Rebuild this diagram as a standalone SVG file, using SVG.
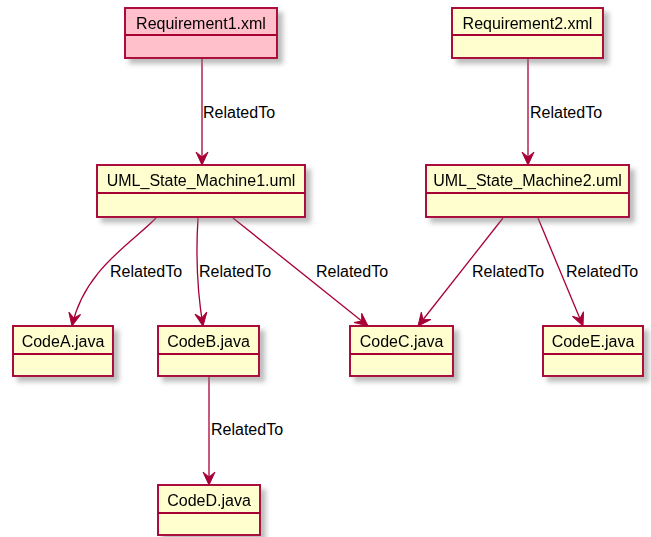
<svg xmlns="http://www.w3.org/2000/svg" width="651" height="537" viewBox="0 0 651 537">
  <defs>
    <filter id="shadow" x="-10%" y="-10%" width="130%" height="140%">
      <feGaussianBlur in="SourceAlpha" stdDeviation="2.5" result="blur"/>
      <feColorMatrix in="blur" type="matrix" values="0 0 0 0 0.2  0 0 0 0 0.2  0 0 0 0 0.2  0 0 0 0.5 0" result="tint"/>
      <feOffset in="tint" dx="5" dy="5" result="off"/>
      <feMerge><feMergeNode in="off"/><feMergeNode in="SourceGraphic"/></feMerge>
    </filter>
    <marker id="arrow" markerUnits="userSpaceOnUse" viewBox="-14 -7 15 14" markerWidth="15" markerHeight="14" refX="0" refY="0" orient="auto">
      <path d="M0,0 L-13,-6 L-8,0 L-13,6 Z" fill="#A80036" stroke="#A80036" stroke-width="1"/>
    </marker>
  </defs>
  <style>
    .box { fill: #FEFECE; stroke: #A80036; stroke-width: 1.9; }
    .pink { fill: #FFC0CB; }
    .div { stroke: #A80036; stroke-width: 1.9; }
    .name { font-family: "Liberation Sans", Arial, sans-serif; font-size: 16px; fill: #000; text-anchor: middle; }
    .edge { fill: none; stroke: #A80036; stroke-width: 1.3; marker-end: url(#arrow); }
    .lbl { font-family: "Liberation Sans", Arial, sans-serif; font-size: 16px; fill: #000; }
  </style>

  <!-- relations -->
  <g id="connectors">
    <path class="edge" d="M202,58 L202,165"/>
    <path class="edge" d="M528,58 L528,165"/>
    <path class="edge" d="M156,218 C132,243 84,270 72,326"/>
    <path class="edge" d="M198,218 C196,250 197,290 203,326"/>
    <path class="edge" d="M233,218 L368,326"/>
    <path class="edge" d="M503,218 L418,326"/>
    <path class="edge" d="M538,218 L583,326"/>
    <path class="edge" d="M209,376 L209,485"/>
    <text class="lbl" x="203" y="118">RelatedTo</text>
    <text class="lbl" x="530" y="118">RelatedTo</text>
    <text class="lbl" x="110" y="277">RelatedTo</text>
    <text class="lbl" x="199" y="277">RelatedTo</text>
    <text class="lbl" x="316" y="277">RelatedTo</text>
    <text class="lbl" x="472" y="277">RelatedTo</text>
    <text class="lbl" x="566" y="277">RelatedTo</text>
    <text class="lbl" x="211" y="435">RelatedTo</text>
  </g>

  <g id="req1" filter="url(#shadow)">
    <rect class="box pink" x="125" y="8" width="152" height="50"/>
    <line class="div" x1="125" y1="35" x2="277" y2="35"/>
    <text class="name" x="201" y="29">Requirement1.xml</text>
  </g>
  <g id="req2" filter="url(#shadow)">
    <rect class="box" x="452" y="8" width="151" height="50"/>
    <line class="div" x1="452" y1="35" x2="603" y2="35"/>
    <text class="name" x="527.5" y="29">Requirement2.xml</text>
  </g>
  <g id="sm1" filter="url(#shadow)">
    <rect class="box" x="97" y="165" width="208" height="52"/>
    <line class="div" x1="97" y1="193" x2="305" y2="193"/>
    <text class="name" x="201" y="186">UML_State_Machine1.uml</text>
  </g>
  <g id="sm2" filter="url(#shadow)">
    <rect class="box" x="426" y="165" width="203" height="52"/>
    <line class="div" x1="426" y1="193" x2="629" y2="193"/>
    <text class="name" x="527.5" y="186">UML_State_Machine2.uml</text>
  </g>
  <g id="codeA" filter="url(#shadow)">
    <rect class="box" x="13" y="326" width="100" height="50"/>
    <line class="div" x1="13" y1="354" x2="113" y2="354"/>
    <text class="name" x="63" y="347">CodeA.java</text>
  </g>
  <g id="codeB" filter="url(#shadow)">
    <rect class="box" x="158" y="326" width="101" height="50"/>
    <line class="div" x1="158" y1="354" x2="259" y2="354"/>
    <text class="name" x="208.5" y="347">CodeB.java</text>
  </g>
  <g id="codeC" filter="url(#shadow)">
    <rect class="box" x="350" y="326" width="103" height="50"/>
    <line class="div" x1="350" y1="354" x2="453" y2="354"/>
    <text class="name" x="401.5" y="347">CodeC.java</text>
  </g>
  <g id="codeE" filter="url(#shadow)">
    <rect class="box" x="543" y="326" width="100" height="50"/>
    <line class="div" x1="543" y1="354" x2="643" y2="354"/>
    <text class="name" x="593" y="347">CodeE.java</text>
  </g>
  <g id="codeD" filter="url(#shadow)">
    <rect class="box" x="158" y="485" width="102" height="50"/>
    <line class="div" x1="158" y1="513" x2="260" y2="513"/>
    <text class="name" x="209" y="506">CodeD.java</text>
  </g>
</svg>
